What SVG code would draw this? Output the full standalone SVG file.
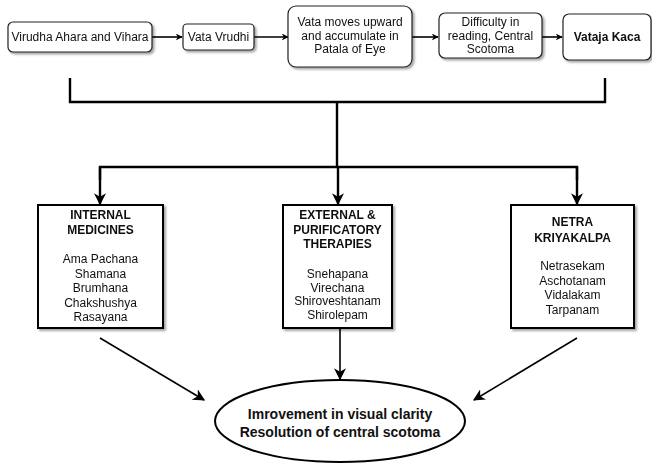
<svg xmlns="http://www.w3.org/2000/svg" width="652" height="464" viewBox="0 0 652 464">
<defs>
<marker id="ah" viewBox="0 0 10 10" refX="9" refY="5" markerWidth="5" markerHeight="5" orient="auto" markerUnits="strokeWidth">
<path d="M0,0 L10,5 L0,10 L3,5 Z" fill="#000"/>
</marker>
<marker id="ah3" viewBox="0 0 10 10" refX="9" refY="5" markerWidth="12" markerHeight="12" orient="auto" markerUnits="userSpaceOnUse">
<path d="M0,0 L10,5 L0,10 L3,5 Z" fill="#000"/>
</marker>
<marker id="ah2" viewBox="0 0 10 10" refX="9" refY="5" markerWidth="7" markerHeight="7" orient="auto" markerUnits="userSpaceOnUse">
<path d="M0,0 L10,5 L0,10 L3,5 Z" fill="#000"/>
</marker>
<filter id="sh" x="-10%" y="-10%" width="130%" height="130%">
<feDropShadow dx="2" dy="2" stdDeviation="1.2" flood-color="#000" flood-opacity="0.35"/>
</filter>
</defs>
<style>
text{font-family:"Liberation Sans",Arial,sans-serif;fill:#111;text-anchor:middle}
.t{font-size:12px}
.b{font-size:12px}
.bb{font-size:12px;font-weight:bold}
.rb{fill:#fff;stroke:#222;stroke-width:1.2}
.sq{fill:#fff;stroke:#000;stroke-width:2}
.c{fill:none;stroke:#000;stroke-width:1.6}
.c2{fill:none;stroke:#000;stroke-width:2.4}
</style>
<rect width="652" height="464" fill="#fff"/>
<g id="connectors">
<line class="c" x1="152" y1="37" x2="182" y2="37" marker-end="url(#ah2)"/>
<line class="c" x1="254" y1="37" x2="288" y2="37" marker-end="url(#ah2)"/>
<line class="c" x1="412" y1="37" x2="438" y2="37" marker-end="url(#ah2)"/>
<line class="c" x1="542" y1="37" x2="562" y2="37" marker-end="url(#ah2)"/>
<polyline class="c2" points="70,78 70,102 605,102 605,78"/>
<line class="c2" x1="337" y1="102" x2="337" y2="167"/>
<polyline class="c2" points="100,180 100,167 577,167 577,180"/>
<line class="c2" x1="100" y1="167" x2="100" y2="204" marker-end="url(#ah)"/>
<line class="c2" x1="338" y1="167" x2="338" y2="204" marker-end="url(#ah)"/>
<line class="c2" x1="577" y1="167" x2="577" y2="204" marker-end="url(#ah)"/>
<line class="c" x1="100" y1="338" x2="204" y2="400" marker-end="url(#ah3)"/>
<line class="c" x1="340" y1="329" x2="340" y2="379" marker-end="url(#ah3)"/>
<line class="c" x1="577" y1="338" x2="474" y2="400" marker-end="url(#ah3)"/>
</g>
<g id="n1" filter="url(#sh)"><rect class="rb" x="8" y="22" width="144" height="30" rx="5"/><text class="t" x="80" y="41">Virudha Ahara and Vihara</text></g>
<g id="n2" filter="url(#sh)"><rect class="rb" x="183" y="24" width="71" height="26" rx="4"/><text class="t" x="218.5" y="41">Vata Vrudhi</text></g>
<g id="n3" filter="url(#sh)"><rect class="rb" x="288" y="6" width="124" height="61" rx="8"/><text class="t" x="350" y="26">Vata moves upward</text><text class="t" x="350" y="39.5">and accumulate in</text><text class="t" x="350" y="53">Patala of Eye</text></g>
<g id="n4" filter="url(#sh)"><rect class="rb" x="439" y="13" width="103" height="45" rx="6"/><text class="t" x="490.5" y="26">Difficulty in</text><text class="t" x="490.5" y="39.5">reading, Central</text><text class="t" x="490.5" y="53">Scotoma</text></g>
<g id="n5" filter="url(#sh)"><rect class="rb" x="563" y="14" width="88" height="46" rx="6"/><text class="t" x="607" y="41" font-weight="bold">Vataja Kaca</text></g>
<g id="n6" filter="url(#sh)"><rect class="sq" x="38" y="205" width="125" height="123"/>
<text class="bb" x="100.5" y="219">INTERNAL</text><text class="bb" x="100.5" y="234">MEDICINES</text>
<text class="b" x="100.5" y="263">Ama Pachana</text><text class="b" x="100.5" y="277.5">Shamana</text><text class="b" x="100.5" y="292">Brumhana</text><text class="b" x="100.5" y="306.5">Chakshushya</text><text class="b" x="100.5" y="321">Rasayana</text></g>
<g id="n7" filter="url(#sh)"><rect class="sq" x="283" y="205" width="109" height="123"/>
<text class="bb" x="337.5" y="219">EXTERNAL &amp;</text><text class="bb" x="337.5" y="233.5">PURIFICATORY</text><text class="bb" x="337.5" y="248">THERAPIES</text>
<text class="b" x="337.5" y="278">Snehapana</text><text class="b" x="337.5" y="291.5">Virechana</text><text class="b" x="337.5" y="305">Shiroveshtanam</text><text class="b" x="337.5" y="318.5">Shirolepam</text></g>
<g id="n8" filter="url(#sh)"><rect class="sq" x="511" y="205" width="123" height="123"/>
<text class="bb" x="572.5" y="226">NETRA</text><text class="bb" x="572.5" y="242">KRIYAKALPA</text>
<text class="b" x="572.5" y="270">Netrasekam</text><text class="b" x="572.5" y="284.5">Aschotanam</text><text class="b" x="572.5" y="299">Vidalakam</text><text class="b" x="572.5" y="313.5">Tarpanam</text></g>
<g id="n9"><ellipse cx="340" cy="421" rx="125" ry="41" fill="#fff" stroke="#000" stroke-width="2"/>
<text x="340" y="419" font-size="14" font-weight="bold">Imrovement in visual clarity</text>
<text x="340" y="437" font-size="14" font-weight="bold">Resolution of central scotoma</text></g>
</svg>
